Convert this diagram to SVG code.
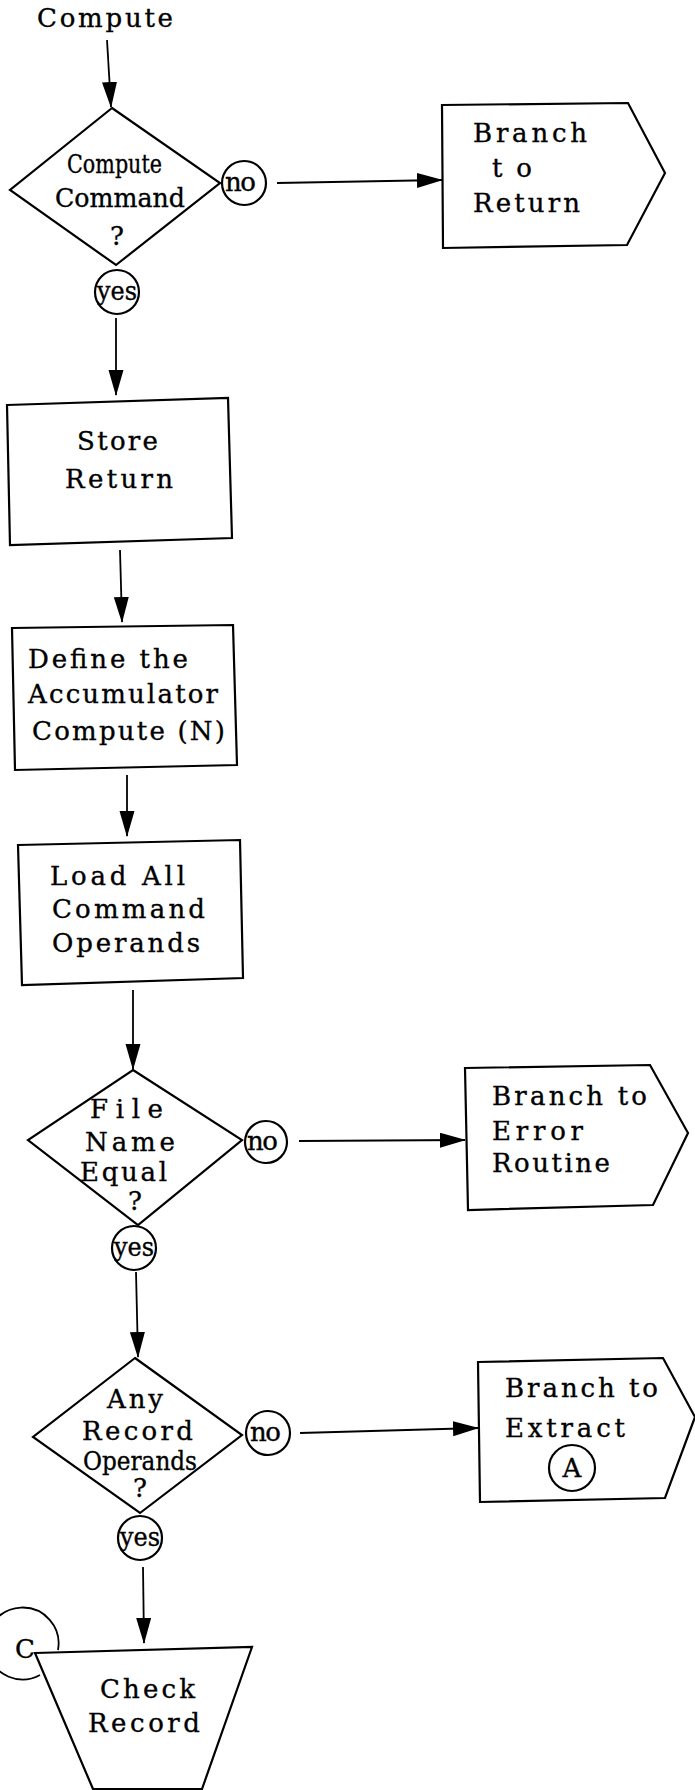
<svg xmlns="http://www.w3.org/2000/svg" width="695" height="1790" viewBox="0 0 695 1790">
<defs>
<marker id="ah" markerUnits="userSpaceOnUse" markerWidth="26" markerHeight="16" refX="25" refY="7.5" orient="auto">
<path d="M0,0 L26,7.5 L0,15 Z" fill="#000"/>
</marker>
<style>
.s{fill:#fff;stroke:#000;stroke-width:2.2;stroke-linejoin:miter}
.c{fill:none;stroke:#000;stroke-width:1.8}
.t{font-family:"DejaVu Serif","Liberation Serif",serif;font-size:26px;fill:#000;stroke:#000;stroke-width:0.35}
.m{text-anchor:middle}
</style>
</defs>
<rect width="695" height="1790" fill="#fff"/>
<g id="connectors">
<line class="c" x1="107" y1="40" x2="111" y2="107" marker-end="url(#ah)"/>
<line class="c" x1="277" y1="183" x2="442" y2="180" marker-end="url(#ah)"/>
<line class="c" x1="116" y1="318" x2="116" y2="395" marker-end="url(#ah)"/>
<line class="c" x1="120" y1="550" x2="122" y2="622" marker-end="url(#ah)"/>
<line class="c" x1="127" y1="775" x2="127" y2="836" marker-end="url(#ah)"/>
<line class="c" x1="133" y1="990" x2="133" y2="1069" marker-end="url(#ah)"/>
<line class="c" x1="299" y1="1141" x2="465" y2="1140" marker-end="url(#ah)"/>
<line class="c" x1="136" y1="1272" x2="138" y2="1357" marker-end="url(#ah)"/>
<line class="c" x1="300" y1="1433" x2="478" y2="1428" marker-end="url(#ah)"/>
<line class="c" x1="143" y1="1567" x2="144" y2="1643" marker-end="url(#ah)"/>
</g>
<g id="start">
<text class="t" x="37" y="27" font-size="24" textLength="136" lengthAdjust="spacing">Compute</text>
</g>
<g id="d1">
<polygon class="s" points="112,108 220,183 116,265 10,190"/>
<text class="t" x="67" y="173" font-size="24" textLength="95" lengthAdjust="spacingAndGlyphs">Compute</text>
<text class="t" x="55" y="207" font-size="24" textLength="130" lengthAdjust="spacingAndGlyphs">Command</text>
<text class="t m" x="117" y="245" font-size="24">?</text>
<circle class="s" cx="244" cy="183" r="22"/>
<text class="t" x="225" y="191" font-size="23" textLength="31" lengthAdjust="spacing">no</text>
<circle class="s" cx="117" cy="292" r="22"/>
<text class="t" x="97" y="300" font-size="23" textLength="40" lengthAdjust="spacingAndGlyphs">yes</text>
</g>
<g id="branch-return">
<polygon class="s" points="442,105 628,103 665,173 627,245 443,248"/>
<text class="t" x="473" y="142" textLength="114" lengthAdjust="spacing">Branch</text>
<text class="t" x="492" y="177" textLength="40" lengthAdjust="spacing">to</text>
<text class="t" x="473" y="212" textLength="107" lengthAdjust="spacing">Return</text>
</g>
<g id="store">
<polygon class="s" points="7,405 228,398 232,538 10,545"/>
<text class="t" x="77" y="450" textLength="81" lengthAdjust="spacing">Store</text>
<text class="t" x="65" y="488" textLength="108" lengthAdjust="spacing">Return</text>
</g>
<g id="define">
<polygon class="s" points="12,628 233,625 237,765 15,770"/>
<text class="t" x="28" y="668" textLength="160" lengthAdjust="spacing">Define the</text>
<text class="t" x="28" y="703" textLength="190" lengthAdjust="spacing">Accumulator</text>
<text class="t" x="32" y="740" textLength="193" lengthAdjust="spacing">Compute (N)</text>
</g>
<g id="load">
<polygon class="s" points="18,845 240,840 243,978 22,985"/>
<text class="t" x="50" y="885" textLength="135" lengthAdjust="spacing">Load All</text>
<text class="t" x="52" y="918" textLength="153" lengthAdjust="spacing">Command</text>
<text class="t" x="52" y="952" textLength="148" lengthAdjust="spacing">Operands</text>
</g>
<g id="d2">
<polygon class="s" points="133,1070 242,1140 138,1225 28,1140"/>
<text class="t" x="90" y="1118" font-size="24" textLength="73" lengthAdjust="spacing">File</text>
<text class="t" x="85" y="1151" font-size="23" textLength="90" lengthAdjust="spacing">Name</text>
<text class="t" x="80" y="1181" font-size="23" textLength="87" lengthAdjust="spacing">Equal</text>
<text class="t m" x="135" y="1210" font-size="19">?</text>
<circle class="s" cx="266" cy="1142" r="21"/>
<text class="t" x="247" y="1150" font-size="23" textLength="31" lengthAdjust="spacing">no</text>
<circle class="s" cx="134" cy="1248" r="22"/>
<text class="t" x="114" y="1256" font-size="23" textLength="40" lengthAdjust="spacingAndGlyphs">yes</text>
</g>
<g id="branch-error">
<polygon class="s" points="465,1068 650,1065 688,1133 653,1205 468,1210"/>
<text class="t" x="492" y="1105" textLength="155" lengthAdjust="spacing">Branch to</text>
<text class="t" x="492" y="1140" textLength="91" lengthAdjust="spacing">Error</text>
<text class="t" x="492" y="1172" textLength="118" lengthAdjust="spacing">Routine</text>
</g>
<g id="d3">
<polygon class="s" points="135,1358 242,1435 140,1513 33,1437"/>
<text class="t" x="107" y="1408" font-size="25" textLength="56" lengthAdjust="spacing">Any</text>
<text class="t" x="82" y="1440" font-size="25" textLength="111" lengthAdjust="spacing">Record</text>
<text class="t" x="83" y="1470" font-size="25" textLength="114" lengthAdjust="spacingAndGlyphs">Operands</text>
<text class="t m" x="140" y="1497" font-size="23">?</text>
<circle class="s" cx="268" cy="1433" r="22"/>
<text class="t" x="250" y="1441" font-size="23" textLength="31" lengthAdjust="spacing">no</text>
<circle class="s" cx="140" cy="1538" r="22"/>
<text class="t" x="120" y="1546" font-size="23" textLength="40" lengthAdjust="spacingAndGlyphs">yes</text>
</g>
<g id="branch-extract">
<polygon class="s" points="478,1362 663,1358 695,1417 665,1498 480,1502"/>
<text class="t" x="505" y="1397" textLength="153" lengthAdjust="spacing">Branch to</text>
<text class="t" x="505" y="1437" textLength="120" lengthAdjust="spacing">Extract</text>
<circle class="s" cx="572" cy="1468" r="23"/>
<text class="t m" x="572" y="1477" font-size="24">A</text>
</g>
<g id="check">
<path class="c" d="M58,1650 A36,36 0 1 0 40,1675"/>
<text class="t" x="15" y="1658" font-size="24">C</text>
<polygon class="s" points="35,1653 252,1647 202,1789 93,1789"/>
<text class="t" x="100" y="1698" textLength="95" lengthAdjust="spacing">Check</text>
<text class="t" x="88" y="1732" textLength="112" lengthAdjust="spacing">Record</text>
</g>
</svg>
